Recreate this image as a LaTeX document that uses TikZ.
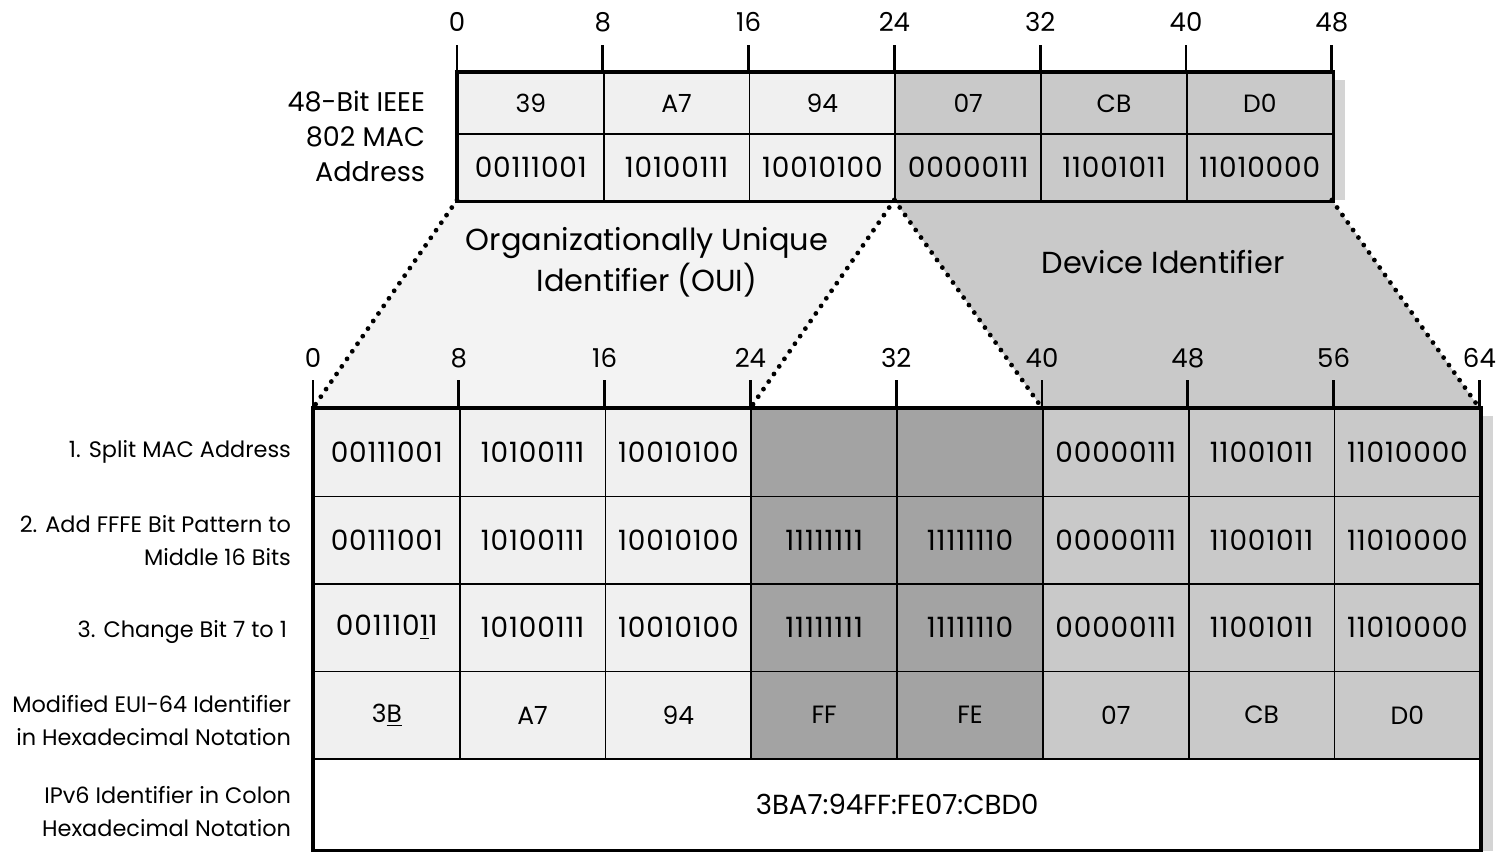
\documentclass[tikz,border=0pt]{standalone}
\usepackage{fontspec}
\setmainfont{Poppins}
\newfontfamily\bitfont{Poppins}[LetterSpace=3]
\usetikzlibrary{positioning}

\definecolor{ouigray}{HTML}{F0F0F0}
\definecolor{devgray}{HTML}{C9C9C9}
\definecolor{fffegray}{HTML}{A3A3A3}
\definecolor{shadowgray}{HTML}{D4D4D4}

\begin{document}
\begin{tikzpicture}[
    x=0.5pt, y=-0.5pt,
    font=\fontsize{12.5}{14}\selectfont,
    cell/.style={
        draw,
        line width=0.9pt,
        minimum width=72.9pt,
        inner sep=0pt,
        anchor=north west
    },
    hexrow/.style={cell, minimum height=30.5pt},
    binrow/.style={cell, minimum height=33.5pt, font=\bitfont\fontsize{14}{16}\selectfont},
    steprow/.style={cell, minimum height=43.75pt},
    bitrow/.style={steprow, font=\bitfont\fontsize{14}{16}\selectfont},
    frame/.style={draw, line width=1.6pt},
    tick/.style={line width=1.4pt},
    ticklabel/.style={font=\fontsize{13}{15}\selectfont},
    rowlabel/.style={anchor=east, align=right, font=\fontsize{11.2}{16.5}\selectfont},
    fieldlabel/.style={align=center, font=\fontsize{15.2}{20.5}\selectfont},
    split/.style={line width=2.4pt, line cap=round, dash pattern=on 0pt off 4.6pt}
]
\useasboundingbox (0,0) rectangle (1503,851);

% Corners of the two tables
\coordinate (mac-left) at (457,200);
\coordinate (mac-mid) at (894.4,200);
\coordinate (mac-right) at (1331.8,200);
\coordinate (eui-left) at (313,408);
\coordinate (eui-oui) at (750.4,408);
\coordinate (eui-dev) at (1042,408);
\coordinate (eui-right) at (1479.4,408);

% Shaded fields between the tables
\fill[ouigray!80!white] (mac-left) -- (mac-mid) -- (eui-oui) -- (eui-left) -- cycle;
\fill[devgray] (mac-mid) -- (mac-right) -- (eui-right) -- (eui-dev) -- cycle;

% Shadows
\fill[shadowgray] (1331.8,80) rectangle (1345,200);
\fill[shadowgray] (1479.4,416) rectangle (1493,851);

% MAC address
\foreach \x/\b in {0/0,1/8,2/16,3/24,4/32,5/40,6/48} {
    \draw[tick] ({457+\x*145.8},45) -- ({457+\x*145.8},72);
    \node[ticklabel] (mac-tick-\x) at ({457+\x*145.8},22) {\b};
}
\foreach \hex/\bits/\shade [count=\i from 0] in {
    39/00111001/ouigray, A7/10100111/ouigray, 94/10010100/ouigray,
    07/00000111/devgray, CB/11001011/devgray, D0/11010000/devgray} {
    \node[hexrow, fill=\shade] (mac-hex-\i) at ({457+\i*145.8},72) {\hex};
    \node[binrow, fill=\shade] (mac-bin-\i) at ({457+\i*145.8},133) {\bits};
}
\draw[frame] (mac-hex-0.north west) rectangle (mac-bin-5.south east);

\node[anchor=east, align=right, font=\fontsize{13.5}{17.5}\selectfont] (mac-label) at (432,136) {48-Bit IEEE\\802 MAC\\Address};

\node[fieldlabel] (oui-label) at (647,262) {Organizationally Unique\\Identifier (OUI)};
\node[fieldlabel] (dev-label) at (1163,262) {Device Identifier};

% Modified EUI-64
\foreach \x/\b in {0/0,1/8,2/16,3/24,4/32,5/40,6/48,7/56,8/64} {
    \draw[tick] ({313+\x*145.8},380) -- ({313+\x*145.8},408);
    \node[ticklabel] (eui-tick-\x) at ({313+\x*145.8},358) {\b};
}
\foreach \bits/\shade [count=\i from 0] in {
    00111001/ouigray, 10100111/ouigray, 10010100/ouigray, {}/fffegray, {}/fffegray,
    00000111/devgray, 11001011/devgray, 11010000/devgray} {
    \node[bitrow, fill=\shade] (split-\i) at ({313+\i*145.8},408) {\bits};
}
\foreach \bits/\shade [count=\i from 0] in {
    00111001/ouigray, 10100111/ouigray, 10010100/ouigray, 11111111/fffegray, 11111110/fffegray,
    00000111/devgray, 11001011/devgray, 11010000/devgray} {
    \node[bitrow, fill=\shade] (fffe-\i) at ({313+\i*145.8},495.5) {\bits};
}
\foreach \bits/\shade [count=\i from 0] in {
    {001110\underline{1}1}/ouigray, 10100111/ouigray, 10010100/ouigray, 11111111/fffegray, 11111110/fffegray,
    00000111/devgray, 11001011/devgray, 11010000/devgray} {
    \node[bitrow, fill=\shade] (bit7-\i) at ({313+\i*145.8},583) {\bits};
}
\foreach \hex/\shade [count=\i from 0] in {
    {3\underline{B}}/ouigray, A7/ouigray, 94/ouigray, FF/fffegray, FE/fffegray,
    07/devgray, CB/devgray, D0/devgray} {
    \node[steprow, fill=\shade] (eui-\i) at ({313+\i*145.8},670.5) {\hex};
}
\node[cell, minimum width=583.2pt, minimum height=45.5pt, fill=white, font=\fontsize{13.8}{15}\selectfont] (ipv6) at (313,758) {3BA7:94FF:FE07:CBD0};
\draw[frame] (split-0.north west) rectangle (ipv6.south east);

\node[rowlabel] (split-label) at (298,452) {1. Split MAC Address};
\node[rowlabel] (fffe-label) at (298,541) {2. Add FFFE Bit Pattern to\\Middle 16 Bits};
\node[rowlabel] (bit7-label) at (294,632) {3. Change Bit 7 to 1};
\node[rowlabel] (eui-label) at (298,721) {Modified EUI-64 Identifier\\in Hexadecimal Notation};
\node[rowlabel] (ipv6-label) at (298,812) {IPv6 Identifier in Colon\\Hexadecimal Notation};

% Dotted boundaries of the two fields
\draw[split] (mac-left) -- (eui-left);
\draw[split] (mac-mid) -- (eui-oui);
\draw[split] (mac-mid) -- (eui-dev);
\draw[split] (mac-right) -- (eui-right);

\end{tikzpicture}
\end{document}
